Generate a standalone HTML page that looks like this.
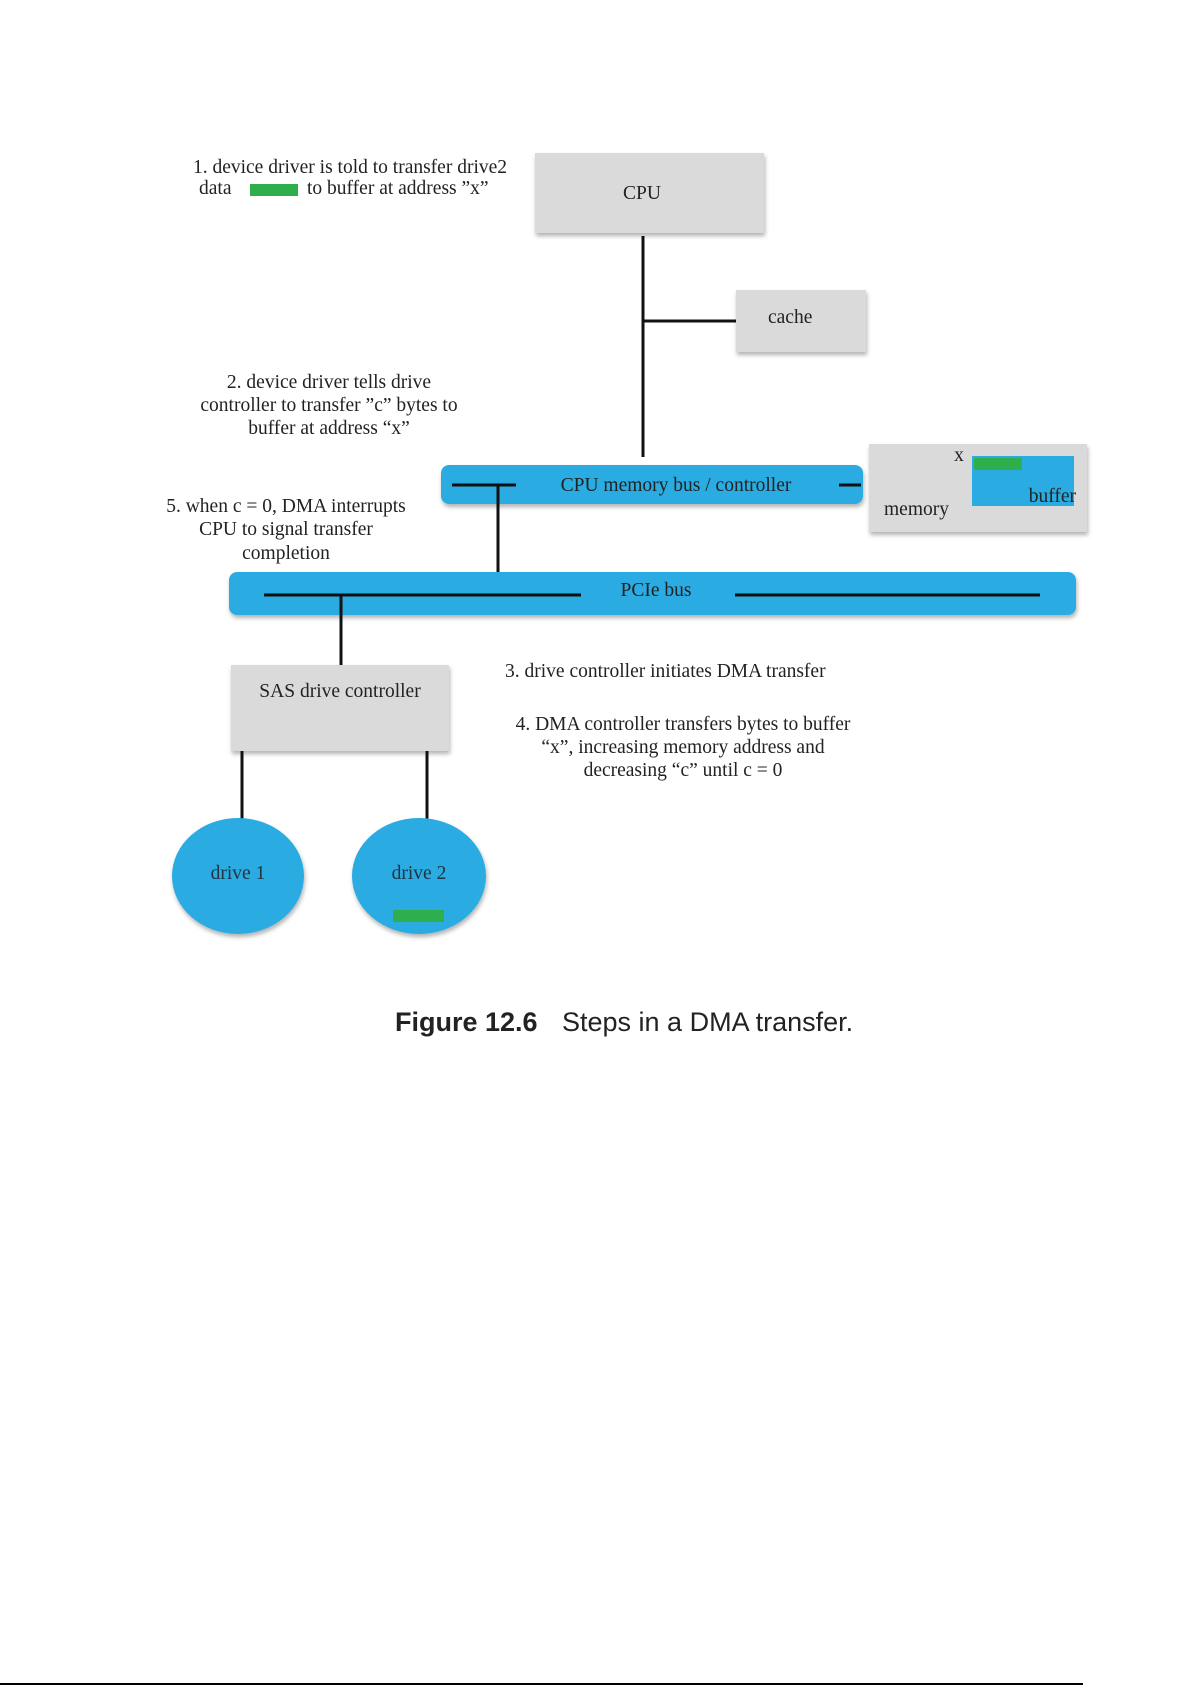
<!DOCTYPE html>
<html><head><meta charset="utf-8"><style>
html,body{margin:0;padding:0;background:#fff;}
svg text{font-family:"Liberation Serif",serif;font-size:19.5px;fill:#222;}
</style></head><body>
<svg width="1192" height="1685" xmlns="http://www.w3.org/2000/svg">
<defs><filter id="s" x="-10%" y="-10%" width="130%" height="140%"><feDropShadow dx="1" dy="3" stdDeviation="2" flood-color="#000" flood-opacity="0.3"/></filter></defs>
<text x="350" y="173" text-anchor="middle">1. device driver is told to transfer drive2</text>
<text x="199" y="194">data</text>
<rect x="250" y="184" width="48" height="12" fill="#2fae4e"/>
<text x="307" y="194">to buffer at address ”x”</text>
<rect x="535" y="153" width="229" height="80" fill="#dadada" filter="url(#s)"/>
<text x="642" y="199" text-anchor="middle">CPU</text>
<line x1="643" y1="236" x2="643" y2="457" stroke="#111" stroke-width="3"/>
<line x1="643" y1="321" x2="736" y2="321" stroke="#111" stroke-width="3"/>
<rect x="736" y="290" width="130" height="62" fill="#dadada" filter="url(#s)"/>
<text x="768" y="323">cache</text>
<text x="329" y="388" text-anchor="middle">2. device driver tells drive</text>
<text x="329" y="411" text-anchor="middle">controller to transfer ”c” bytes to</text>
<text x="329" y="434" text-anchor="middle">buffer at address “x”</text>
<rect x="441" y="465" width="422" height="39" rx="8" fill="#2aace2" filter="url(#s)"/>
<line x1="452" y1="485" x2="516" y2="485" stroke="#111" stroke-width="3"/>
<line x1="839" y1="485" x2="861" y2="485" stroke="#111" stroke-width="3"/>
<text x="676" y="491" text-anchor="middle">CPU memory bus / controller</text>
<line x1="498" y1="485" x2="498" y2="597" stroke="#111" stroke-width="3"/>
<rect x="869" y="444" width="218" height="88" fill="#dadada" filter="url(#s)"/>
<rect x="972" y="456" width="102" height="50" fill="#2aace2"/>
<rect x="974" y="458" width="48" height="12" fill="#2fae4e"/>
<text x="959" y="461" text-anchor="middle">x</text>
<text x="884" y="515">memory</text>
<text x="1076" y="502" text-anchor="end">buffer</text>
<text x="286" y="512" text-anchor="middle">5. when c = 0, DMA interrupts</text>
<text x="286" y="535" text-anchor="middle">CPU to signal transfer</text>
<text x="286" y="559" text-anchor="middle">completion</text>
<rect x="229" y="572" width="847" height="43" rx="8" fill="#2aace2" filter="url(#s)"/>
<line x1="264" y1="595" x2="581" y2="595" stroke="#111" stroke-width="3"/>
<line x1="735" y1="595" x2="1040" y2="595" stroke="#111" stroke-width="3"/>
<text x="656" y="596" text-anchor="middle">PCIe bus</text>
<line x1="341" y1="595" x2="341" y2="665" stroke="#111" stroke-width="3"/>
<rect x="231" y="665" width="218" height="86" fill="#dadada" filter="url(#s)"/>
<text x="340" y="697" text-anchor="middle">SAS drive controller</text>
<line x1="242" y1="751" x2="242" y2="820" stroke="#111" stroke-width="3"/>
<line x1="427" y1="751" x2="427" y2="820" stroke="#111" stroke-width="3"/>
<ellipse cx="238" cy="876" rx="66" ry="58" fill="#2aace2" filter="url(#s)"/>
<ellipse cx="419" cy="876" rx="67" ry="58" fill="#2aace2" filter="url(#s)"/>
<text x="238" y="879" text-anchor="middle" style="fill:#234">drive 1</text>
<text x="419" y="879" text-anchor="middle" style="fill:#234">drive 2</text>
<rect x="393" y="910" width="51" height="12" fill="#2fae4e"/>
<text x="505" y="677">3. drive controller initiates DMA transfer</text>
<text x="683" y="730" text-anchor="middle">4. DMA controller transfers bytes to buffer</text>
<text x="683" y="753" text-anchor="middle">“x”, increasing memory address and</text>
<text x="683" y="776" text-anchor="middle">decreasing  “c” until c = 0</text>
<text x="395" y="1031" style="font-family:'Liberation Sans',sans-serif;font-size:27px;font-weight:bold;fill:#222">Figure 12.6</text>
<text x="562" y="1031" style="font-family:'Liberation Sans',sans-serif;font-size:27px;fill:#222">Steps in a DMA transfer.</text>
<line x1="0" y1="1684" x2="1083" y2="1684" stroke="#000" stroke-width="2"/>
</svg>
</body></html>
